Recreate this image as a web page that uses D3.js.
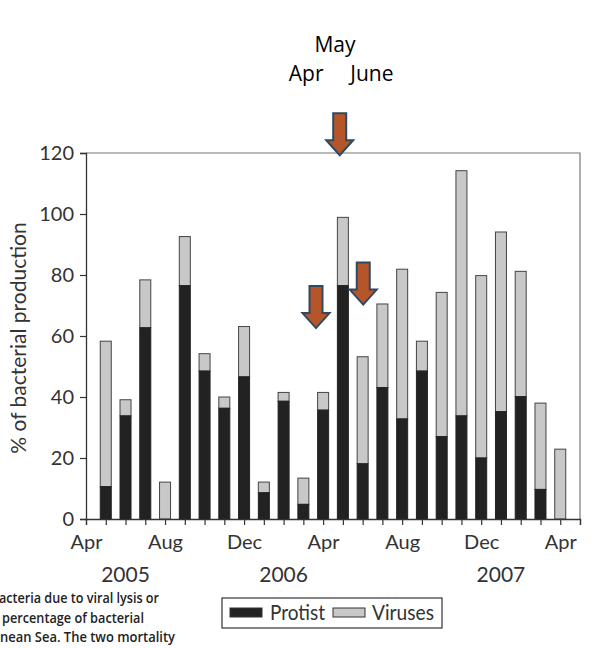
<!DOCTYPE html>
<html lang="en">
<head>
  <meta charset="UTF-8">
  <title>Bacterial mortality</title>
  <style>
    body { margin: 0; background: #fff; }
    svg { display: block; }
    .tick text { font-family: Lato, sans-serif; font-size: 20px; fill: #333; }
  </style>
</head>
<body>
  <svg width="606" height="648"></svg>

  <script src="https://d3js.org/d3.v7.min.js"></script>
  <script>
    // month index 0 = Apr 2005 ... 25 = May 2007
    const monthNames = ["Jan","Feb","Mar","Apr","May","Jun","Jul","Aug","Sep","Oct","Nov","Dec"];
    const barMonths = d3.range(1, 25);   // May 2005 .. Apr 2007
    const protist = [10.6, 33.8, 62.7, 0, 76.5, 48.5, 36.3, 46.6, 8.6, 38.6, 4.8, 35.7,
                     76.5, 18.1, 43.1, 32.8, 48.5, 27.0, 33.8, 20.0, 35.2, 40.1, 9.7, 0];
    const viruses = [47.7, 5.3, 15.7, 12.1, 16.1, 5.7, 3.7, 16.5, 3.5, 2.9, 8.6, 5.8,
                     22.4, 35.1, 27.4, 49.1, 9.8, 47.3, 80.4, 59.8, 58.9, 41.1, 28.3, 22.9];
    const yTicks = [0, 20, 40, 60, 80, 100, 120];
    const xLabelMonths = [0, 4, 8, 12, 16, 20, 24];
    const years = [{ label: "2005", pos: 2.0 }, { label: "2006", pos: 10.0 }, { label: "2007", pos: 21.0 }];

    // arrows: month position and value of the tip
    const arrows = [{ pos: 11.64, tip: 62.6 }, { pos: 14.03, tip: 70.3 }, { pos: 12.84, tip: 119.3 }];
    const topLabels = [
      { text: "May", pos: 12.6, line: 0 },
      { text: "Apr", pos: 11.14, line: 1 },
      { text: "June", pos: 14.47, line: 1 }
    ];
    const caption = [
      { text: "acteria due to viral lysis or", x: -1, w: 160 },
      { text: "percentage of bacterial", x: 2, w: 142 },
      { text: "nean Sea. The two mortality", x: 0, w: 175 }
    ];

    const svg = d3.select("svg");
    const mLeft = 86, mRight = 580, mTop = 153, mBottom = 519;

    const x = d3.scaleLinear().domain([0, 25]).range([mLeft, mRight]);
    const y = d3.scaleLinear().domain([0, 120]).range([mBottom, mTop]);

    // frame (top + right)
    svg.append("path")
      .attr("d", `M${mLeft},${mTop}H${mRight}V${mBottom}`)
      .attr("fill", "none")
      .attr("stroke", "#777")
      .attr("stroke-width", 1.2);

    const data = barMonths.map((m, i) => ({ m, p: protist[i], v: viruses[i] }));
    const barW = 11;

    const bars = svg.append("g").attr("stroke", "#444").attr("stroke-width", 1);
    bars.selectAll("rect.vir")
      .data(data)
      .join("rect")
      .attr("class", "vir")
      .attr("x", d => x(d.m) - barW / 2)
      .attr("y", d => y(d.p + d.v))
      .attr("width", barW)
      .attr("height", d => y(d.p) - y(d.p + d.v))
      .attr("fill", "#c8c8c8");
    bars.selectAll("rect.pro")
      .data(data.filter(d => d.p > 0))
      .join("rect")
      .attr("class", "pro")
      .attr("x", d => x(d.m) - barW / 2)
      .attr("y", d => y(d.p))
      .attr("width", barW)
      .attr("height", d => y(0) - y(d.p))
      .attr("fill", "#222")
      .attr("stroke", "#222");

    // axes
    const xAxis = svg.append("g")
      .attr("transform", `translate(0,${mBottom})`)
      .call(d3.axisBottom(x)
        .tickValues(d3.range(0, 26))
        .tickSize(6)
        .tickPadding(7)
        .tickFormat(d => xLabelMonths.includes(d) ? monthNames[(d + 3) % 12] : ""));
    xAxis.select(".domain").attr("stroke", "#333").attr("stroke-width", 1.3);
    xAxis.selectAll(".tick line").attr("stroke", "#333").attr("stroke-width", 1.2);
    xAxis.selectAll(".tick text").attr("dy", "0.85em");

    const yAxis = svg.append("g")
      .attr("transform", `translate(${mLeft},0)`)
      .call(d3.axisLeft(y).tickValues(yTicks).tickSize(6).tickPadding(6));
    yAxis.select(".domain").attr("stroke", "#333").attr("stroke-width", 1.3);
    yAxis.selectAll(".tick line").attr("stroke", "#333").attr("stroke-width", 1.2);

    svg.append("text")
      .attr("transform", `translate(26,338) rotate(-90)`)
      .attr("text-anchor", "middle")
      .attr("font-family", "Lato, sans-serif")
      .attr("font-size", 21)
      .attr("fill", "#333")
      .text("% of bacterial production");

    svg.selectAll("text.year")
      .data(years)
      .join("text")
      .attr("class", "year")
      .attr("x", d => x(d.pos))
      .attr("y", 582)
      .attr("text-anchor", "middle")
      .attr("font-family", "Lato, sans-serif")
      .attr("font-size", 21)
      .attr("fill", "#333")
      .text(d => d.label);

    // arrows
    const sh = 13, hw = 27, hh = 15, len = 42;
    svg.selectAll("path.arrow")
      .data(arrows)
      .join("path")
      .attr("class", "arrow")
      .attr("d", d => {
        const cx = x(d.pos), ty = y(d.tip), t = ty - len;
        return `M${cx - sh / 2},${t}H${cx + sh / 2}V${ty - hh}H${cx + hw / 2}L${cx},${ty}L${cx - hw / 2},${ty - hh}H${cx - sh / 2}Z`;
      })
      .attr("fill", "#b5562a")
      .attr("stroke", "#2d4a60")
      .attr("stroke-width", 2)
      .attr("stroke-linejoin", "miter");

    svg.selectAll("text.top")
      .data(topLabels)
      .join("text")
      .attr("class", "top")
      .attr("x", d => x(d.pos))
      .attr("y", d => d.line === 0 ? 52 : 81)
      .attr("text-anchor", "middle")
      .attr("font-family", "'Open Sans', sans-serif")
      .attr("font-size", 21)
      .attr("fill", "#000")
      .text(d => d.text);

    // legend
    const lg = svg.append("g");
    lg.append("rect").attr("x", 222).attr("y", 598).attr("width", 220).attr("height", 30)
      .attr("fill", "#fff").attr("stroke", "#333").attr("stroke-width", 1.2);
    const items = [{ name: "Protist", color: "#222", sx: 230, tx: 270, w: 55 },
                   { name: "Viruses", color: "#c8c8c8", sx: 333, tx: 372, w: 62 }];
    lg.selectAll("rect.sw").data(items).join("rect")
      .attr("class", "sw")
      .attr("x", d => d.sx).attr("y", 608).attr("width", 32).attr("height", 9)
      .attr("fill", d => d.color).attr("stroke", "#333").attr("stroke-width", 1);
    lg.selectAll("text").data(items).join("text")
      .attr("x", d => d.tx).attr("y", 620)
      .attr("font-family", "Lato, sans-serif")
      .attr("font-size", 21)
      .attr("textLength", d => d.w)
      .attr("lengthAdjust", "spacingAndGlyphs")
      .attr("fill", "#333")
      .text(d => d.name);

    // caption fragment on the left
    svg.selectAll("text.cap")
      .data(caption)
      .join("text")
      .attr("class", "cap")
      .attr("x", d => d.x)
      .attr("y", (d, i) => 603 + i * 19.5)
      .attr("font-family", "'Open Sans', sans-serif")
      .attr("font-size", 15)
      .attr("font-weight", 600)
      .attr("textLength", d => d.w)
      .attr("lengthAdjust", "spacingAndGlyphs")
      .attr("fill", "#222")
      .text(d => d.text);
  </script>
</body>
</html>
